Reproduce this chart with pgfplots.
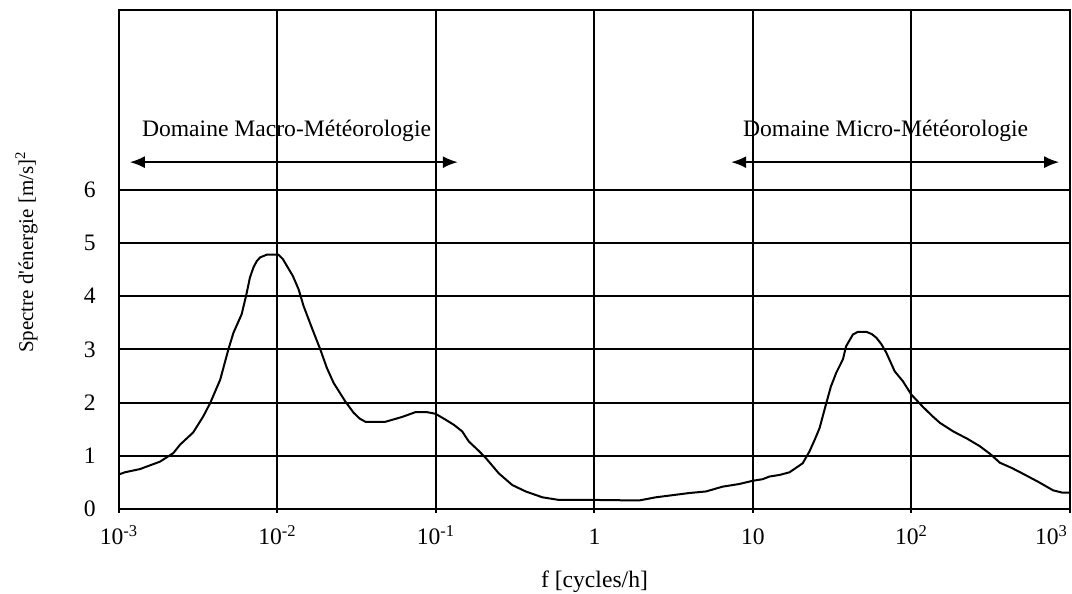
\documentclass[border=0pt]{standalone}
\usepackage{fontspec}
\setmainfont{Liberation Serif}
\usepackage{pgfplots}
\pgfplotsset{compat=1.18}
\usetikzlibrary{arrows.meta}
\newcommand\chartfont{\fontsize{11.8}{14}\selectfont}
\begin{document}
\chartfont
\begin{tikzpicture}[font=\chartfont]
\useasboundingbox (-59.5pt,-42.5pt) rectangle (476.5pt,254.5pt);
\begin{axis}[
  at={(0,0)}, anchor=south west,
  scale only axis, width=475.5pt, height=249.5pt,
  xmode=log, log basis x=10,
  xmin=1e-3, xmax=1e3, ymin=0, ymax=9.38,
  xtick={1e-3,1e-2,1e-1,1,10,100,1000},
  xticklabels={10\textsuperscript{-3},10\textsuperscript{-2},10\textsuperscript{-1},1,10,10\textsuperscript{2},\makebox[0pt][r]{10\textsuperscript{3}\kern1pt}},
  minor xtick={},
  ytick={0,1,2,3,4,5,6},
  /pgf/number format/assume math mode=true,
  tick label style={font=\chartfont},
  label style={font=\chartfont},
  grid=major,
  major grid style={black, line width=1pt},
  axis line style={black, line width=1pt},
  xtick pos=bottom, ytick pos=left, tick align=outside,
  major tick length=2pt,
  xtick style={black, line width=1pt},
  ytick style={draw=none},
  xticklabel style={anchor=base, yshift=-16pt},
  yticklabel style={xshift=-5.5pt},
  xlabel={f [cycles/h]},
  xlabel style={at={(axis description cs:0.5,0)}, anchor=base, yshift=-39.5pt},
  ylabel={Spectre d\textquotesingle énergie [m/s]\textsuperscript{2}},
  ylabel style={at={(axis description cs:-0.0904,0.515)}, anchor=base, font=\fontsize{10.5}{12.5}\selectfont},
  clip=false,
]
\addplot[black, line width=1pt] coordinates {
(1.0e-3,0.65) (1.089e-3,0.69) (1.355e-3,0.75) (1.815e-3,0.89) (2.20e-3,1.05)
(2.43e-3,1.21) (2.94e-3,1.44) (3.40e-3,1.74) (3.76e-3,1.99) (4.35e-3,2.43)
(4.90e-3,3.00) (5.27e-3,3.31) (5.94e-3,3.66) (6.34e-3,4.01) (6.70e-3,4.35) (7.05e-3,4.54)
(7.40e-3,4.66) (7.78e-3,4.73) (8.55e-3,4.78) (1.014e-2,4.78) (1.08e-2,4.70) (1.146e-2,4.57) (1.25e-2,4.38) (1.359e-2,4.13)
(1.459e-2,3.82) (1.65e-2,3.40) (1.862e-2,3.00) (2.05e-2,2.65) (2.26e-2,2.37) (2.68e-2,2.02) (3.02e-2,1.81)
(3.30e-2,1.70) (3.58e-2,1.64) (4.80e-2,1.64) (6.11e-2,1.73) (7.41e-2,1.82) (8.79e-2,1.82)
(9.93e-2,1.79) (1.148e-1,1.68) (1.30e-1,1.58) (1.462e-1,1.46) (1.61e-1,1.27) (1.85e-1,1.10) (2.06e-1,0.96)
(2.49e-1,0.67) (3.03e-1,0.45) (3.68e-1,0.33) (4.69e-1,0.22) (5.97e-1,0.17)
(1.02,0.17) (1.91,0.16) (2.44,0.22) (3.96,0.30) (5.06,0.33) (6.43,0.42)
(8.20,0.47) (9.95,0.53) (11.5,0.56) (12.7,0.61) (14.7,0.64) (17.0,0.69)
(20.6,0.86) (22.7,1.08) (24.5,1.30) (26.3,1.52) (29.0,1.99) (31.0,2.30) (33.5,2.56) (36.9,2.81)
(38.7,3.06) (42.7,3.28) (45.9,3.33) (51.9,3.33) (56.0,3.29) (60.0,3.22) (64.5,3.10) (69.3,2.94)
(78.3,2.59) (88.3,2.40) (99.8,2.15) (118,1.92) (135,1.75) (151,1.62) (183,1.46)
(225,1.32) (270,1.18) (315,1.03) (361,0.87) (430,0.77) (507,0.66) (640,0.50) (783,0.35) (887,0.31) (1000,0.31)
};
\draw[{Latex[length=7.5pt,width=6pt]}-{Latex[length=7.5pt,width=6pt]}, line width=1pt]
  (axis cs:1.17e-3,6.52) -- (axis cs:0.1374,6.52);
\draw[{Latex[length=7.5pt,width=6pt]}-{Latex[length=7.5pt,width=6pt]}, line width=1pt]
  (axis cs:7.28,6.52) -- (axis cs:855,6.52);
\node[anchor=base, inner sep=0pt] at (axis cs:0.0114,7.0) {Domaine Macro-Météorologie};
\node[anchor=base, inner sep=0pt] at (axis cs:68.7,7.0) {Domaine Micro-Météorologie};
\end{axis}
\end{tikzpicture}
\end{document}
